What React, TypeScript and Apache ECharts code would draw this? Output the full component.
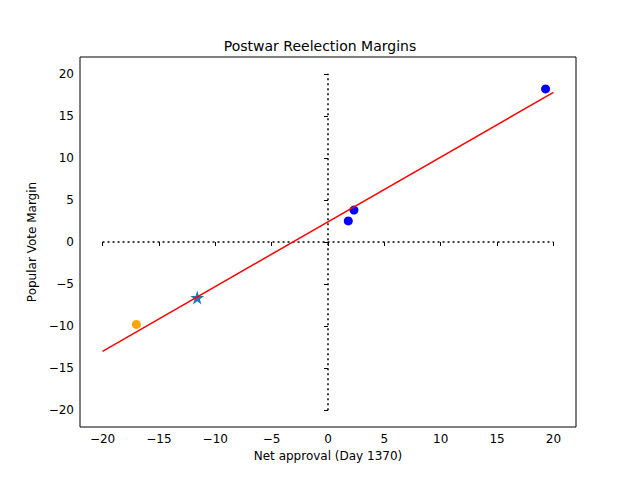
import { useEffect, useRef } from "react";
import * as echarts from "echarts";

const bluePoints = [[19.3, 18.2], [1.8, 2.5], [2.3, 3.8]];
const orangePoints = [[-17.0, -9.8]];
const starPoints = [[-11.6, -6.6]];
const fitLine = [[-20, -13.0], [20, 17.8]];
const zeroH = [[-20, 0], [20, 0]];
const zeroV = [[0, -20], [0, 20]];

const App = () => {
  const ref = useRef<HTMLDivElement>(null);

  useEffect(() => {
    const chart = echarts.init(ref.current, undefined, { renderer: "svg" });
    const font = "DejaVu Sans";
    // outer grid: data range -22..22; inner grid: -20..20 for the ticks
    const L = 80, R = 64, T = 57, B = 53;
    const dx = (640 - L - R) * 2 / 44;
    const dy = (480 - T - B) * 2 / 44;
    const hidden = {
      axisLine: { show: false }, axisTick: { show: false },
      axisLabel: { show: false }, splitLine: { show: false },
    };
    const tickAxis = {
      type: "value" as const,
      min: -20,
      max: 20,
      interval: 5,
      axisLine: { show: false },
      axisTick: { length: 4, lineStyle: { color: "#000" } },
      axisLabel: {
        color: "#000", fontSize: 12, fontFamily: font, margin: 6,
        formatter: (v: number) => String(v).replace("-", "−"),
      },
      splitLine: { show: false },
      nameLocation: "middle" as const,
      nameTextStyle: { color: "#000", fontSize: 12, fontFamily: font },
    };
    chart.setOption({
      animation: false,
      title: {
        text: "Postwar Reelection Margins",
        left: "center",
        top: 34,
        textStyle: { fontSize: 14, fontWeight: "normal", fontFamily: font, color: "#000" },
      },
      grid: [
        { left: L, right: R, top: T, bottom: B, show: true, borderColor: "#000", borderWidth: 1 },
        { left: L + dx, right: R + dx, top: T + dy, bottom: B + dy },
      ],
      xAxis: [
        { type: "value", min: -22, max: 22, gridIndex: 0, ...hidden },
        { ...tickAxis, gridIndex: 1, offset: dy, name: "Net approval (Day 1370)", nameGap: 22 },
      ],
      yAxis: [
        { type: "value", min: -22, max: 22, gridIndex: 0, ...hidden },
        { ...tickAxis, gridIndex: 1, offset: dx, name: "Popular Vote Margin", nameGap: 30 },
      ],
      series: [
        { type: "line", data: zeroH, symbol: "none", lineStyle: { color: "#000", type: [2, 3], width: 1.5 } },
        { type: "line", data: zeroV, symbol: "none", lineStyle: { color: "#000", type: [2, 3], width: 1.5 } },
        { type: "scatter", data: bluePoints, symbolSize: 9, itemStyle: { color: "#0000ff", opacity: 1 } },
        { type: "scatter", data: orangePoints, symbolSize: 9, itemStyle: { color: "#ffa500", opacity: 1 } },
        { type: "line", data: fitLine, symbol: "none", lineStyle: { color: "#ff0000", width: 1.5 } },
        { type: "scatter", data: starPoints, symbol: "path://M50,0 L61,35 L98,35 L68,57 L79,91 L50,70 L21,91 L32,57 L2,35 L39,35 Z", symbolSize: 14, itemStyle: { color: "#1f77b4", opacity: 1 } },
      ],
    });
    return () => chart.dispose();
  }, []);

  return <div ref={ref} style={{ width: 640, height: 480, margin: -8 }} />;
};

export default App;
